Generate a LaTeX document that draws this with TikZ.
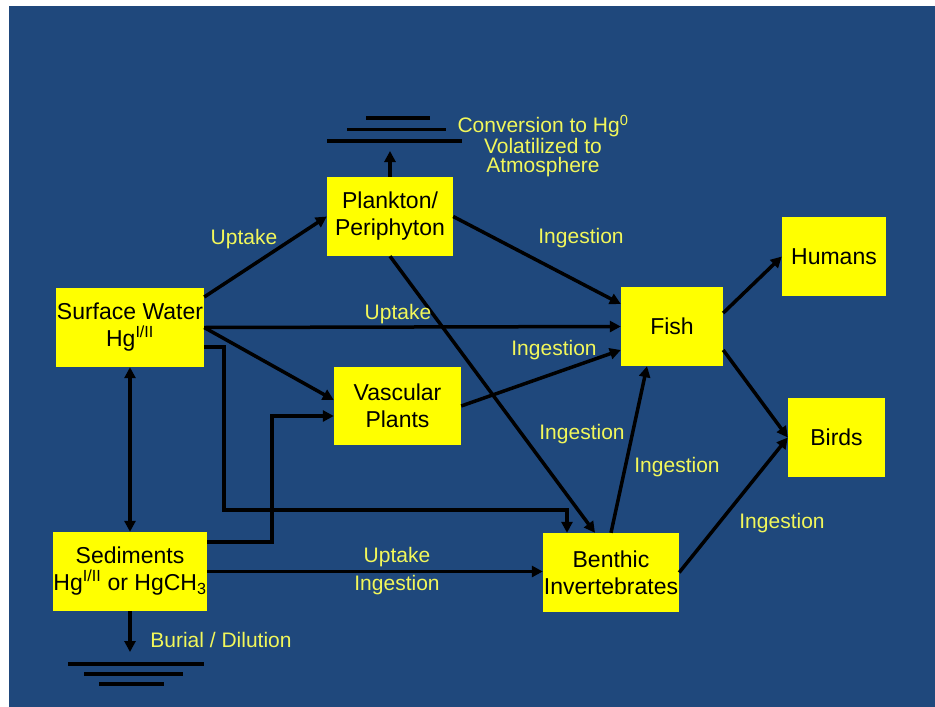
\documentclass[tikz,border=0pt]{standalone}
\usepackage{fontspec}
\setmainfont{Liberation Sans}
\usetikzlibrary{arrows.meta}
\definecolor{bgblue}{HTML}{1F487C}
\definecolor{boxyellow}{HTML}{FFFF00}
\definecolor{lblyellow}{HTML}{F2F75A}
\tikzset{
  box/.style={fill=boxyellow, draw=none, inner sep=0pt, align=center,
    font=\fontsize{23}{27}\selectfont, text=black},
  lbl/.style={text=lblyellow, inner sep=0pt, align=center,
    font=\fontsize{21}{19.5}\selectfont},
  conn/.style={line width=3.5pt, draw=black, -{Triangle[length=11pt,width=11pt]}},
  conn2/.style={line width=3.5pt, draw=black, {Triangle[length=11pt,width=11pt]}-{Triangle[length=11pt,width=11pt]}},
  ground/.style={line width=3.5pt, draw=black}
}
\begin{document}
\begin{tikzpicture}[x=1pt,y=-1pt]
\useasboundingbox (0,0) rectangle (935,707);
\fill[white] (0,0) rectangle (935,707);
\fill[bgblue] (9,6) rectangle (935,707);

% boxes
\node[box, minimum width=148pt, minimum height=79pt] (sw) at (130,327.5) {Surface Water\\Hg\textsuperscript{I/II}};
\node[box, minimum width=154pt, minimum height=79pt] (sed) at (130,571.5) {Sediments\\Hg\textsuperscript{I/II} or HgCH\textsubscript{3}};
\node[box, minimum width=126pt, minimum height=79pt] (pl) at (390,216.5) {Plankton/\\Periphyton};
\node[box, minimum width=127pt, minimum height=78pt] (vp) at (397.5,406) {Vascular\\Plants};
\node[box, minimum width=102pt, minimum height=79pt] (fish) at (672,326.5) {Fish};
\node[box, minimum width=104pt, minimum height=79pt] (hum) at (834,256.5) {Humans};
\node[box, minimum width=97pt, minimum height=79pt] (birds) at (836.5,437.5) {Birds};
\node[box, minimum width=136pt, minimum height=79pt] (ben) at (611,572.5) {Benthic\\Invertebrates};

% ground symbols
\draw[ground] (366,118) -- (430,118);
\draw[ground] (347,129.5) -- (446,129.5);
\draw[ground] (327,141) -- (462,141);
\draw[ground] (68,664) -- (204,664);
\draw[ground] (84,674) -- (183,674);
\draw[ground] (99,684) -- (164,684);
\coordinate (atm) at (390,151);
\coordinate (bur) at (130,652);
\coordinate (k1) at (224,510);
\coordinate (k2) at (272,416);

% connectors
\draw[conn] (pl.north) -- (atm);
\draw[conn] (sed.south) -- (bur);
\draw[conn2] (sw.south) -- (sed.north);
\draw[conn] ([yshift=30.5pt]sw.east) -- (pl.west);
\draw[conn] (sw.east) -- (fish.west);
\draw[conn] (sw.east) -- ([yshift=6pt]vp.west);
\draw[conn] ([yshift=-19.5pt]sw.east) -| (k1) -| ([xshift=-44pt]ben.north);
\draw[conn] ([yshift=29.5pt]sed.east) -| (k2) -- ([yshift=-10pt]vp.west);
\draw[conn] (sed.east) -- (sed.east -| ben.west);
\draw[conn] (pl.east) -- ([yshift=22.5pt]fish.west);
\draw[conn] (pl.south) -- ([xshift=-16pt]ben.north);
\draw[conn] (vp.east) -- ([yshift=-23.5pt]fish.west);
\draw[conn] (ben.north) -- ([xshift=-25pt]fish.south);
\draw[conn] ([yshift=13.5pt]fish.east) -- (hum.west);
\draw[conn] ([yshift=-23.5pt]fish.east) -- (birds.west);
\draw[conn] (ben.east) -- (birds.west);

% labels
\node[lbl] (l1) at (244,239) {Uptake};
\node[lbl] (l2) at (398,314) {Uptake};
\node[lbl] (l3) at (581,238) {Ingestion};
\node[lbl] (l4) at (554,350) {Ingestion};
\node[lbl] (l5) at (582,434) {Ingestion};
\node[lbl] (l6) at (677,467) {Ingestion};
\node[lbl] (l7) at (782,523) {Ingestion};
\node[lbl] (l8) at (397,557) {Uptake};
\node[lbl] (l9) at (397,585) {Ingestion};
\node[lbl] (l10) at (221,640) {Burial / Dilution};
\node[lbl] (l11) at (543,146) {Conversion to Hg\textsuperscript{0}\\Volatilized to\\Atmosphere};
\end{tikzpicture}
\end{document}
